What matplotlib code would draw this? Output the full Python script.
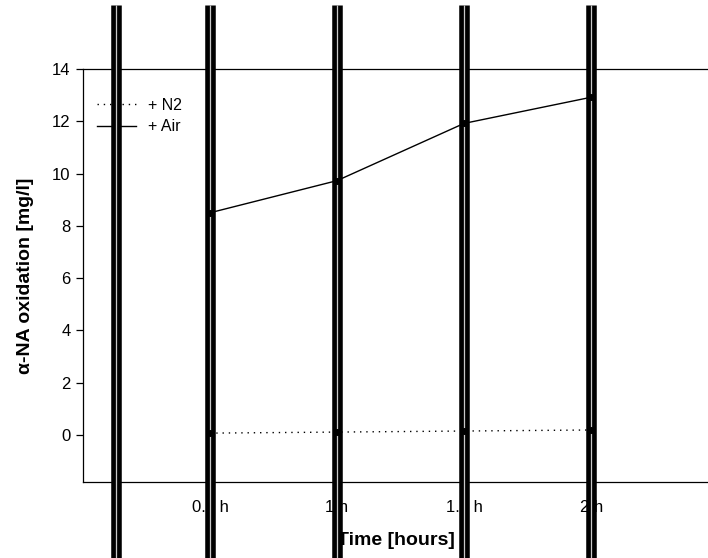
import matplotlib.pyplot as plt
from matplotlib.lines import Line2D

plt.rcParams['font.family'] = ['Liberation Sans', 'DejaVu Sans']

hours = [0.5, 1.0, 1.5, 2.0]
tick_labels = ['0.5 h', '1 h', '1.5 h', '2 h']
n2 = [0.07, 0.11, 0.15, 0.19]
air = [8.50, 9.73, 11.92, 12.92]

# the error bars in the original run off the page, so they all end at the same height
BAR_LOW, BAR_HIGH = -5.0, 16.45


def big_bar(ax, x, y0, y1, transform):
    # black bar with a thin light stripe in the middle
    ax.plot([x, x], [y0, y1], color='black', lw=7.6, solid_capstyle='butt',
            transform=transform, clip_on=False, zorder=5)
    ax.plot([x, x], [y0, y1], color='#c8c8c8', lw=0.9, solid_capstyle='butt',
            transform=transform, clip_on=False, zorder=6)


fig = plt.figure(figsize=(7.08, 5.58), dpi=100)
ax = fig.add_axes([0.1172, 0.1362, 0.8828, 0.7401])

dots = (0, (1, 3.5))
ax.plot(hours, n2, color='black', lw=1, linestyle=dots,
        marker='o', ms=4, zorder=7, clip_on=False)
ax.plot(hours, air, color='black', lw=1, marker='o', ms=4, zorder=7, clip_on=False)

for x in hours:
    big_bar(ax, x, BAR_LOW, BAR_HIGH, ax.transData)

ax.set_xlim(0, 2.46)
ax.set_ylim(-1.8, 14)
ax.set_yticks([0, 2, 4, 6, 8, 10, 12, 14])
ax.set_xticks(hours)
ax.set_xticklabels(tick_labels)

ax.spines['right'].set_visible(False)
for s in ['left', 'top', 'bottom']:
    ax.spines[s].set_linewidth(0.9)

ax.tick_params(axis='y', direction='out', length=5, width=0.9, labelsize=12, pad=4)
ax.tick_params(axis='x', direction='out', length=3, width=0.9, labelsize=12, pad=10)

ax.set_xlabel('Time [hours]', fontsize=14, fontweight='bold', labelpad=12)
ax.set_ylabel('α-NA oxidation [mg/l]', fontsize=14, fontweight='bold', labelpad=13)

handles = [
    Line2D([], [], color='black', lw=1, linestyle=dots, marker='o', ms=4),
    Line2D([], [], color='black', lw=1, marker='o', ms=4),
]
ax.legend(handles, ['+ N2', '+ Air'], loc='upper left', bbox_to_anchor=(0.0, 0.965),
          frameon=False, fontsize=11.5, handlelength=2.4, handletextpad=0.8,
          labelspacing=0.4, borderaxespad=0.5)

# the legend's own error bar also runs through the whole figure
big_bar(ax, 0.053, -0.2, 1.155, ax.transAxes)

fig.savefig('out.png', dpi=100)
